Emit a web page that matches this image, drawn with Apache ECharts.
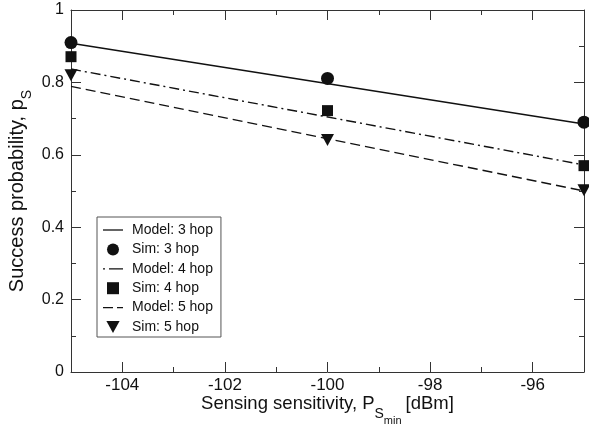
<!DOCTYPE html>
<html><head><meta charset="utf-8">
<script src="https://cdn.jsdelivr.net/npm/echarts@6/dist/echarts.min.js"></script>
<style>html,body{margin:0;padding:0;background:#fff}#c{width:589px;height:428px}</style>
</head><body><div id="c"></div>
<script>
var xEnds = [-105, -95];
var model3 = [0.908, 0.685];
var model4 = [0.837, 0.572];
var model5 = [0.789, 0.500];
var simX = [-105, -100, -95];
var sim3 = [0.91, 0.811, 0.69];
var sim4 = [0.871, 0.722, 0.570];
var sim5 = [0.82, 0.641, 0.502];
var xMajor = [-104, -102, -100, -98, -96];
var xMinor = [-103, -101, -99, -97];
var names = ['Model: 3 hop','Sim: 3 hop','Model: 4 hop','Sim: 4 hop','Model: 5 hop','Sim: 5 hop'];

function pairs(xs, ys){return xs.map(function(x,i){return [x, ys[i]];});}
var C = '#111';
var AX = '#333';
var font = 'Liberation Sans, Arial, sans-serif';

function xAxisDef(pos, ticks, len, showLine, showLabels){
  return {
    type:'value',min:-105,max:-95,interval:1,position:pos,offset:0,
    axisLine:{show:showLine,onZero:false,lineStyle:{color:AX,width:1}},
    axisTick:{show:true,inside:true,length:len,customValues:ticks,lineStyle:{color:AX}},
    axisLabel:showLabels?{show:true,customValues:xMajor,color:C,fontSize:17,fontFamily:font,margin:5}:{show:false},
    splitLine:{show:false},minorTick:{show:false}
  };
}
function yAxisDef(pos, showLabels){
  return {
    type:'value',min:0,max:1,interval:0.2,position:pos,offset:0,
    axisLine:{show:true,onZero:false,lineStyle:{color:AX,width:1}},
    axisTick:{show:true,inside:true,length:10,lineStyle:{color:AX}},
    minorTick:{show:true,splitNumber:2,length:5,lineStyle:{color:AX}},
    splitLine:{show:false},
    axisLabel:showLabels?{show:true,color:C,fontSize:16,fontFamily:font,margin:7,
      formatter:function(v){return String(+v.toFixed(1));}}:{show:false}
  };
}
var xb = xAxisDef('bottom', xMajor, 10, true, true);
xb.name = '{a|Sensing sensitivity, P}{s|S}{m|min}{b|[dBm]}';
xb.nameLocation = 'middle';
xb.nameMoveOverlap = false;
xb.nameGap = 22;
xb.nameTextStyle = {rich:{
  a:{fontSize:18.5,fontFamily:font,color:C},
  b:{fontSize:18.5,fontFamily:font,color:C,padding:[0,0,0,4]},
  s:{fontSize:14,fontFamily:font,color:C,verticalAlign:'bottom',padding:[0,0,-8,0]},
  m:{fontSize:11,fontFamily:font,color:C,verticalAlign:'bottom',padding:[0,0,-13,0]}}};
var yl = yAxisDef('left', true);
yl.name = '{a|Success probability, p}{s|S}';
yl.nameLocation = 'middle';
yl.nameMoveOverlap = false;
yl.nameGap = 44;
yl.nameTextStyle = {rich:{
  a:{fontSize:20,fontFamily:font,color:C},
  s:{fontSize:14,fontFamily:font,color:C,verticalAlign:'bottom',padding:[0,0,-7,0]}}};

var chart = echarts.init(document.getElementById('c'), null, {renderer:'canvas'});
chart.setOption({
  animation:false,
  backgroundColor:'#fff',
  grid:{left:71,right:5,top:10,bottom:56,containLabel:false,outerBoundsMode:'none'},
  xAxis:[xb, xAxisDef('top', xMajor, 10, true, false), xAxisDef('bottom', xMinor, 5, false, false), xAxisDef('top', xMinor, 5, false, false)],
  yAxis:[yl, yAxisDef('right', false)],
  legend:{
    orient:'vertical',left:97,top:217,
    itemWidth:20,itemHeight:12,itemGap:5.4,
    symbolKeepAspect:true,
    padding:[6,8,3,6],
    borderColor:'#555',borderWidth:1,
    textStyle:{color:C,fontSize:14,fontFamily:font,padding:[0,0,0,4]},
    selectedMode:false,
    data:[
      {name:names[0],icon:'path://M0,0h20v1.3h-20z'},
      {name:names[1],icon:'path://M5,0a5,5 0 1,0 0.001,0z'},
      {name:names[2],icon:'path://M0,0h2v1.3h-2zM6,0h14v1.3h-14z'},
      {name:names[3],icon:'path://M0,0h9v9h-9z'},
      {name:names[4],icon:'path://M0,0h10v1.3h-10zM14,0h6v1.3h-6z'},
      {name:names[5],icon:'path://M0,0h11l-5.5,10z'}
    ]
  },
  series:[
    {name:names[0],type:'line',data:pairs(xEnds,model3),symbol:'none',lineStyle:{color:C,width:1.4,type:'solid'},itemStyle:{color:C},z:2},
    {name:names[1],type:'scatter',data:pairs(simX,sim3),symbol:'circle',symbolSize:13,itemStyle:{color:C,opacity:1},z:3},
    {name:names[2],type:'line',data:pairs(xEnds,model4),symbol:'none',lineStyle:{color:C,width:1.4,type:[10,4,2,4]},itemStyle:{color:C},z:2},
    {name:names[3],type:'scatter',data:pairs(simX,sim4),symbol:'rect',symbolSize:11,itemStyle:{color:C,opacity:1},z:3},
    {name:names[4],type:'line',data:pairs(xEnds,model5),symbol:'none',lineStyle:{color:C,width:1.4,type:[10,5]},itemStyle:{color:C},z:2},
    {name:names[5],type:'scatter',data:pairs(simX,sim5),symbol:'triangle',symbolRotate:180,symbolSize:[13,12],itemStyle:{color:C,opacity:1},z:3}
  ]
});
</script></body></html>
